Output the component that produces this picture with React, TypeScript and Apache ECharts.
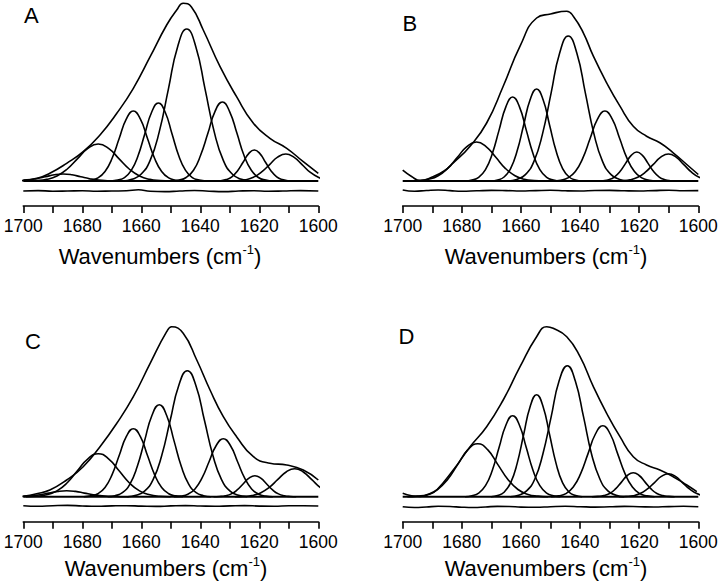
import React, { useEffect, useRef } from "react";
import * as echarts from "echarts";

const tickLabels = [1700, 1680, 1660, 1640, 1620, 1600];
const panelLetters = ["A", "B", "C", "D"];
const axisTitleMain = "Wavenumbers (cm";
const axisTitleSup = "-1";

// ---------- Panel A ----------
const envelopeA = [[1700,1],[1695,3],[1691,7.7],[1685.3,17.7],[1679.7,29.3],[1674,46],[1668.3,67.7],[1662.7,92.7],[1657,124.3],[1651.4,156],[1648,171],[1645.8,177.7],[1643,174],[1639,151],[1633.3,114.3],[1627.7,84.3],[1622,57.7],[1616.4,42.7],[1610.7,32.7],[1605.1,19.3],[1600,7.7]];
const bandsA = [
  [[1665.5,0],[1668.5,0.1],[1671.5,0.3],[1674.5,0.9],[1677.5,2.3],[1680.5,4.2],[1683.5,6.2],[1686.5,7],[1689.5,6.2],[1692.5,4.2],[1695.5,2.3],[1698.5,0.9],[1701.5,0.3]],
  [[1650.1,0],[1653.6,0.4],[1657.1,1.6],[1660.6,5],[1664.1,12],[1667.6,22.4],[1671.1,32.7],[1674.6,37],[1678.1,32.7],[1681.6,22.4],[1685.1,12],[1688.6,5],[1692.1,1.6],[1695.6,0.4],[1699.1,0]],
  [[1645.9,0],[1648.3,0.8],[1650.7,3.1],[1653.1,9.5],[1655.5,22.7],[1657.9,42.5],[1660.3,61.8],[1662.7,70],[1665.1,61.8],[1667.5,42.5],[1669.9,22.7],[1672.3,9.5],[1674.7,3.1],[1677.1,0.8],[1679.5,0]],
  [[1638.1,0],[1640.4,0.9],[1642.7,3.4],[1645,10.6],[1647.3,25.3],[1649.6,47.3],[1651.9,68.8],[1654.2,78],[1656.5,68.8],[1658.8,47.3],[1661.1,25.3],[1663.4,10.6],[1665.7,3.4],[1668,0.9],[1670.3,0]],
  [[1622.9,0],[1626,1.7],[1629.1,6.7],[1632.2,20.6],[1635.3,49.4],[1638.4,92.2],[1641.5,134.1],[1644.6,152],[1647.7,134.1],[1650.8,92.2],[1653.9,49.4],[1657,20.6],[1660.1,6.7],[1663.2,1.7],[1666.3,0]],
  [[1615.4,0],[1617.8,0.9],[1620.3,3.5],[1622.7,10.7],[1625.2,25.7],[1627.6,47.9],[1630.1,69.7],[1632.5,79],[1635,69.7],[1637.4,47.9],[1639.9,25.7],[1642.3,10.7],[1644.8,3.5],[1647.2,0.9],[1649.7,0]],
  [[1608.4,0],[1610.3,0.3],[1612.2,1.4],[1614.1,4.2],[1616,10.1],[1617.9,18.8],[1619.8,27.4],[1621.7,31],[1623.6,27.4],[1625.5,18.8],[1627.4,10.1],[1629.3,4.2],[1631.2,1.4],[1633.1,0.3],[1635,0]],
  [[1594.5,0.3],[1597.3,1.2],[1600,3.7],[1602.8,8.8],[1605.5,16.4],[1608.3,23.8],[1611,27],[1613.8,23.8],[1616.5,16.4],[1619.3,8.8],[1622,3.7],[1624.8,1.2],[1627.5,0.3],[1630.3,0]],
];
const residualA = [[1700,-10],[1695,-9.6],[1690,-10.2],[1685,-10],[1680,-9.7],[1675,-10.3],[1670,-10],[1665,-9.8],[1661,-8.8],[1657,-10.2],[1652,-10.6],[1647,-10],[1642,-9.5],[1637,-10.2],[1632,-10.6],[1627,-10],[1622,-9.7],[1617,-10.2],[1612,-10],[1606,-9.6],[1600,-10]];

// ---------- Panel B ----------
const envelopeB = [[1700,10.8],[1697,4.5],[1694.1,0.5],[1690,4],[1686,10],[1682.9,18],[1677.2,34.8],[1671.6,58],[1666,94.8],[1660.3,134.8],[1654.7,163],[1650,167],[1644.5,169.8],[1642.3,164.8],[1638.9,148.2],[1635.5,124.8],[1631,98.2],[1626.5,74.8],[1622,54.8],[1617.5,44.8],[1613,38.2],[1608.5,28.2],[1603.9,16.5],[1600,6.5]];
const bandsB = [
  [[1652.3,0],[1655.5,0.4],[1658.8,1.7],[1662,5.3],[1665.3,12.7],[1668.5,23.7],[1671.8,34.4],[1675,39],[1678.3,34.4],[1681.5,23.7],[1684.8,12.7],[1688,5.3],[1691.3,1.7],[1694.5,0.4],[1697.8,0]],
  [[1646.7,0],[1649,0.9],[1651.3,3.7],[1653.6,11.4],[1655.9,27.3],[1658.2,50.9],[1660.5,74.1],[1662.8,84],[1665.1,74.1],[1667.4,50.9],[1669.7,27.3],[1672,11.4],[1674.3,3.7],[1676.6,0.9],[1678.9,0]],
  [[1639.3,0],[1641.5,1],[1643.7,4],[1645.9,12.4],[1648.1,29.9],[1650.3,55.8],[1652.5,81.2],[1654.7,92],[1656.9,81.2],[1659.1,55.8],[1661.3,29.9],[1663.5,12.4],[1665.7,4],[1667.9,1],[1670.1,0]],
  [[1623.7,0],[1626.6,1.6],[1629.5,6.4],[1632.4,19.6],[1635.3,47.1],[1638.2,87.9],[1641.1,128],[1644,145],[1646.9,128],[1649.8,87.9],[1652.7,47.1],[1655.6,19.6],[1658.5,6.4],[1661.4,1.6],[1664.3,0]],
  [[1614.1,0],[1616.6,0.8],[1619.1,3.1],[1621.6,9.5],[1624.1,22.7],[1626.6,42.5],[1629.1,61.8],[1631.6,70],[1634.1,61.8],[1636.6,42.5],[1639.1,22.7],[1641.6,9.5],[1644.1,3.1],[1646.6,0.8],[1649.1,0]],
  [[1607.5,0],[1609.4,0.3],[1611.3,1.3],[1613.2,3.9],[1615.1,9.4],[1617,17.6],[1618.9,25.6],[1620.8,29],[1622.7,25.6],[1624.6,17.6],[1626.5,9.4],[1628.4,3.9],[1630.3,1.3],[1632.2,0.3],[1634.1,0]],
  [[1594.5,0.3],[1597.1,1.2],[1599.7,3.7],[1602.3,8.8],[1604.9,16.4],[1607.5,23.8],[1610.1,27],[1612.7,23.8],[1615.3,16.4],[1617.9,8.8],[1620.5,3.7],[1623.1,1.2],[1625.7,0.3],[1628.3,0]],
];
const residualB = [[1700,-9],[1696,-10.2],[1692,-9.5],[1688,-9],[1684,-9.6],[1680,-10.2],[1675,-9.8],[1670,-9.4],[1665,-9.6],[1660,-10],[1655,-9.6],[1650,-9.3],[1645,-9.8],[1640,-10],[1635,-9.5],[1630,-9.4],[1625,-9.8],[1620,-10],[1615,-9.6],[1610,-9.2],[1605,-9.7],[1600,-9.6]];

// ---------- Panel C ----------
const envelopeC = [[1700,0.5],[1695.5,3],[1691,6.7],[1685.3,16.7],[1679.7,30],[1674,50],[1668.3,73.4],[1662.7,100],[1657,133.4],[1651.4,165],[1649.7,170],[1645.8,163.4],[1641.2,136.7],[1636.7,106.7],[1632.2,80],[1627.7,60],[1622,40],[1616.4,33.4],[1610.7,31.7],[1605.1,26.7],[1600,16.7]];
const bandsC = [
  [[1664.3,0],[1667.3,0.1],[1670.3,0.3],[1673.3,0.8],[1676.3,1.9],[1679.3,3.6],[1682.3,5.3],[1685.3,6],[1688.3,5.3],[1691.3,3.6],[1694.3,1.9],[1697.3,0.8],[1700.3,0.3]],
  [[1650.1,0],[1653.6,0.5],[1657.1,1.9],[1660.6,5.8],[1664.1,14],[1667.6,26.1],[1671.1,37.9],[1674.6,43],[1678.1,37.9],[1681.6,26.1],[1685.1,14],[1688.6,5.8],[1692.1,1.9],[1695.6,0.5],[1699.1,0]],
  [[1645.9,0],[1648.3,0.8],[1650.7,3],[1653.1,9.2],[1655.5,22.1],[1657.9,41.2],[1660.3,60],[1662.7,68],[1665.1,60],[1667.5,41.2],[1669.9,22.1],[1672.3,9.2],[1674.7,3],[1677.1,0.8],[1679.5,0]],
  [[1636.4,0],[1638.9,1],[1641.4,4],[1643.9,12.4],[1646.4,29.9],[1648.9,55.8],[1651.4,81.2],[1653.9,92],[1656.4,81.2],[1658.9,55.8],[1661.4,29.9],[1663.9,12.4],[1666.4,4],[1668.9,1],[1671.4,0]],
  [[1624.1,0],[1627,1.4],[1629.9,5.5],[1632.8,17],[1635.7,40.9],[1638.6,76.4],[1641.5,111.2],[1644.4,126],[1647.3,111.2],[1650.2,76.4],[1653.1,40.9],[1656,17],[1658.9,5.5],[1661.8,1.4],[1664.7,0]],
  [[1615.4,0],[1617.8,0.6],[1620.2,2.5],[1622.6,7.8],[1625,18.8],[1627.4,35.2],[1629.8,51.2],[1632.2,58],[1634.6,51.2],[1637,35.2],[1639.4,18.8],[1641.8,7.8],[1644.2,2.5],[1646.6,0.6],[1649,0]],
  [[1607.5,0],[1609.5,0.2],[1611.5,0.9],[1613.5,2.8],[1615.5,6.8],[1617.5,12.7],[1619.5,18.5],[1621.5,21],[1623.5,18.5],[1625.5,12.7],[1627.5,6.8],[1629.5,2.8],[1631.5,0.9],[1633.5,0.2],[1635.5,0]],
  [[1593.5,1.2],[1596.4,3.8],[1599.3,9.1],[1602.2,17],[1605.1,24.7],[1608,28],[1610.9,24.7],[1613.8,17],[1616.7,9.1],[1619.6,3.8],[1622.5,1.2],[1625.4,0.3],[1628.3,0]],
];
const residualC = [[1700,-9],[1695,-9.5],[1690,-9],[1685,-8.7],[1680,-9.3],[1675,-9.6],[1670,-9.2],[1665,-9],[1660,-9.4],[1655,-9.7],[1650,-9.2],[1645,-8.9],[1640,-9.3],[1635,-9.6],[1630,-9.2],[1625,-8.9],[1620,-9.4],[1615,-9.6],[1610,-9.1],[1605,-9],[1600,-9.3]];

// ---------- Panel D ----------
const envelopeD = [[1700,3.4],[1697,1],[1694.1,0.3],[1691,2.5],[1688.5,6.7],[1682.9,26.7],[1677.2,50],[1671.6,70],[1666,96.7],[1660.3,130],[1654.7,160],[1651.3,170],[1649.1,168.4],[1644.5,160],[1640,140],[1635.5,110],[1631,83.4],[1626.5,60],[1622,40],[1617.5,31.7],[1613,26.7],[1608.5,20],[1603.9,11.7],[1600.5,5]];
const bandsD = [
  [[1650.8,0],[1654.2,0.6],[1657.6,2.3],[1661,7.2],[1664.4,17.2],[1667.8,32.1],[1671.2,46.8],[1674.6,53],[1678,46.8],[1681.4,32.1],[1684.8,17.2],[1688.2,7.2],[1691.6,2.3],[1695,0.6],[1698.4,0]],
  [[1646.7,0],[1649,0.9],[1651.3,3.6],[1653.6,11],[1655.9,26.3],[1658.2,49.1],[1660.5,71.5],[1662.8,81],[1665.1,71.5],[1667.4,49.1],[1669.7,26.3],[1672,11],[1674.3,3.6],[1676.6,0.9],[1678.9,0]],
  [[1639.3,0],[1641.5,1.1],[1643.7,4.5],[1645.9,13.8],[1648.1,33.1],[1650.3,61.9],[1652.5,90],[1654.7,102],[1656.9,90],[1659.1,61.9],[1661.3,33.1],[1663.5,13.8],[1665.7,4.5],[1667.9,1.1],[1670.1,0]],
  [[1625.1,0],[1627.8,1.5],[1630.6,5.8],[1633.3,17.7],[1636.1,42.5],[1638.8,79.5],[1641.6,115.6],[1644.3,131],[1647.1,115.6],[1649.8,79.5],[1652.6,42.5],[1655.3,17.7],[1658.1,5.8],[1660.8,1.5],[1663.6,0]],
  [[1614.8,0],[1617.3,0.8],[1619.8,3.1],[1622.3,9.6],[1624.8,23.1],[1627.3,43.1],[1629.8,62.7],[1632.3,71],[1634.8,62.7],[1637.3,43.1],[1639.8,23.1],[1642.3,9.6],[1644.8,3.1],[1647.3,0.8],[1649.8,0]],
  [[1608,0],[1610,0.3],[1612,1.1],[1614,3.2],[1616,7.8],[1618,14.6],[1620,21.2],[1622,24],[1624,21.2],[1626,14.6],[1628,7.8],[1630,3.2],[1632,1.1],[1634,0.3],[1636,0]],
  [[1595.7,0.3],[1598.1,1],[1600.5,3.1],[1602.9,7.5],[1605.3,13.9],[1607.7,20.3],[1610.1,23],[1612.5,20.3],[1614.9,13.9],[1617.3,7.5],[1619.7,3.1],[1622.1,1],[1624.5,0.3],[1626.9,0]],
];
const residualD = [[1700,-10],[1696,-10.8],[1692,-10.3],[1688,-9.6],[1684,-9.8],[1680,-10.5],[1676,-10.8],[1672,-10.3],[1668,-9.7],[1664,-9.8],[1660,-10.4],[1655,-10.6],[1650,-10],[1645,-9.6],[1640,-10],[1635,-10.4],[1630,-10.1],[1625,-9.7],[1620,-10],[1615,-10.3],[1610,-9.9],[1605,-9.6],[1600,-10]];

const baseline = [[1700, 0], [1600, 0]];

const panelData = [
  { envelope: envelopeA, bands: bandsA, residual: residualA },
  { envelope: envelopeB, bands: bandsB, residual: residualB },
  { envelope: envelopeC, bands: bandsC, residual: residualC },
  { envelope: envelopeD, bands: bandsD, residual: residualD },
];

// layout (pixels)
const layout = [
  { left: 23.3, top: 1, width: 295, letterX: 24, letterY: 15, nameX: 160, nameY: 256 },
  { left: 402.7, top: 1, width: 295.6, letterX: 402.6, letterY: 23, nameX: 546, nameY: 256 },
  { left: 23.3, top: 316.7, width: 295, letterX: 25, letterY: 341, nameX: 166, nameY: 568 },
  { left: 402.7, top: 316.7, width: 295.6, letterX: 398.5, letterY: 336, nameX: 546, nameY: 568 },
];

const FONT = "'Liberation Sans', Arial, sans-serif";
const INK = "#000";
const LW = 1.6;

function buildOption() {
  const grid: any[] = [];
  const xAxis: any[] = [];
  const yAxis: any[] = [];
  const series: any[] = [];
  const graphic: any[] = [];

  panelData.forEach((p, i) => {
    const L = layout[i];
    grid.push({ left: L.left, top: L.top, width: L.width, height: 205, outerBoundsMode: "none", containLabel: false });
    xAxis.push({
      type: "value",
      gridIndex: i,
      min: 1600,
      max: 1700,
      interval: 20,
      inverse: true,
      axisLine: { show: true, onZero: false, lineStyle: { color: INK, width: LW } },
      axisTick: { show: true, inside: false, length: 7, lineStyle: { color: INK, width: LW } },
      minorTick: { show: true, splitNumber: 2, length: 7, lineStyle: { color: INK, width: LW } },
      splitLine: { show: false },
      minorSplitLine: { show: false },
      axisLabel: {
        show: true,
        margin: 11,
        fontSize: 17.5,
        fontFamily: FONT,
        color: INK,
        formatter: (v: number) => (tickLabels.indexOf(v) >= 0 ? String(v) : ""),
      },
    });
    yAxis.push({ type: "value", gridIndex: i, min: -25, max: 180, show: false });

    const lineCommon = {
      type: "line",
      xAxisIndex: i,
      yAxisIndex: i,
      showSymbol: false,
      symbol: "none",
      silent: true,
      animation: false,
    };
    series.push({ ...lineCommon, data: baseline, lineStyle: { color: INK, width: 2 } });
    p.bands.forEach((b) => {
      series.push({ ...lineCommon, data: b, smooth: 0.5, lineStyle: { color: INK, width: LW } });
    });
    series.push({ ...lineCommon, data: p.envelope, smooth: 0.5, lineStyle: { color: INK, width: LW } });
    series.push({ ...lineCommon, data: p.residual, smooth: 0.5, lineStyle: { color: INK, width: LW } });

    graphic.push({
      type: "text",
      style: {
        text: panelLetters[i],
        x: L.letterX,
        y: L.letterY,
        fill: INK,
        font: `22px ${FONT}`,
        align: "left",
        verticalAlign: "middle",
      },
    });
    graphic.push({
      type: "text",
      style: {
        text: `{a|${axisTitleMain}}{b|${axisTitleSup}}{a|)}`,
        x: L.nameX,
        y: L.nameY,
        align: "center",
        verticalAlign: "middle",
        rich: {
          a: { fontSize: 22, fontFamily: FONT, fill: INK, lineHeight: 27 },
          b: { fontSize: 13, fontFamily: FONT, fill: INK, lineHeight: 13, verticalAlign: "top" },
        },
      },
    });
  });

  return {
    animation: false,
    backgroundColor: "#fff",
    grid,
    xAxis,
    yAxis,
    series,
    graphic,
  };
}

export default function App() {
  const ref = useRef<HTMLDivElement>(null);
  useEffect(() => {
    if (!ref.current) return;
    const chart = echarts.init(ref.current, undefined, { renderer: "svg" });
    chart.setOption(buildOption() as any);
    return () => chart.dispose();
  }, []);
  return (
    <div
      ref={ref}
      style={{ position: "fixed", left: 0, top: 0, width: 720, height: 587, background: "#fff" }}
    />
  );
}
